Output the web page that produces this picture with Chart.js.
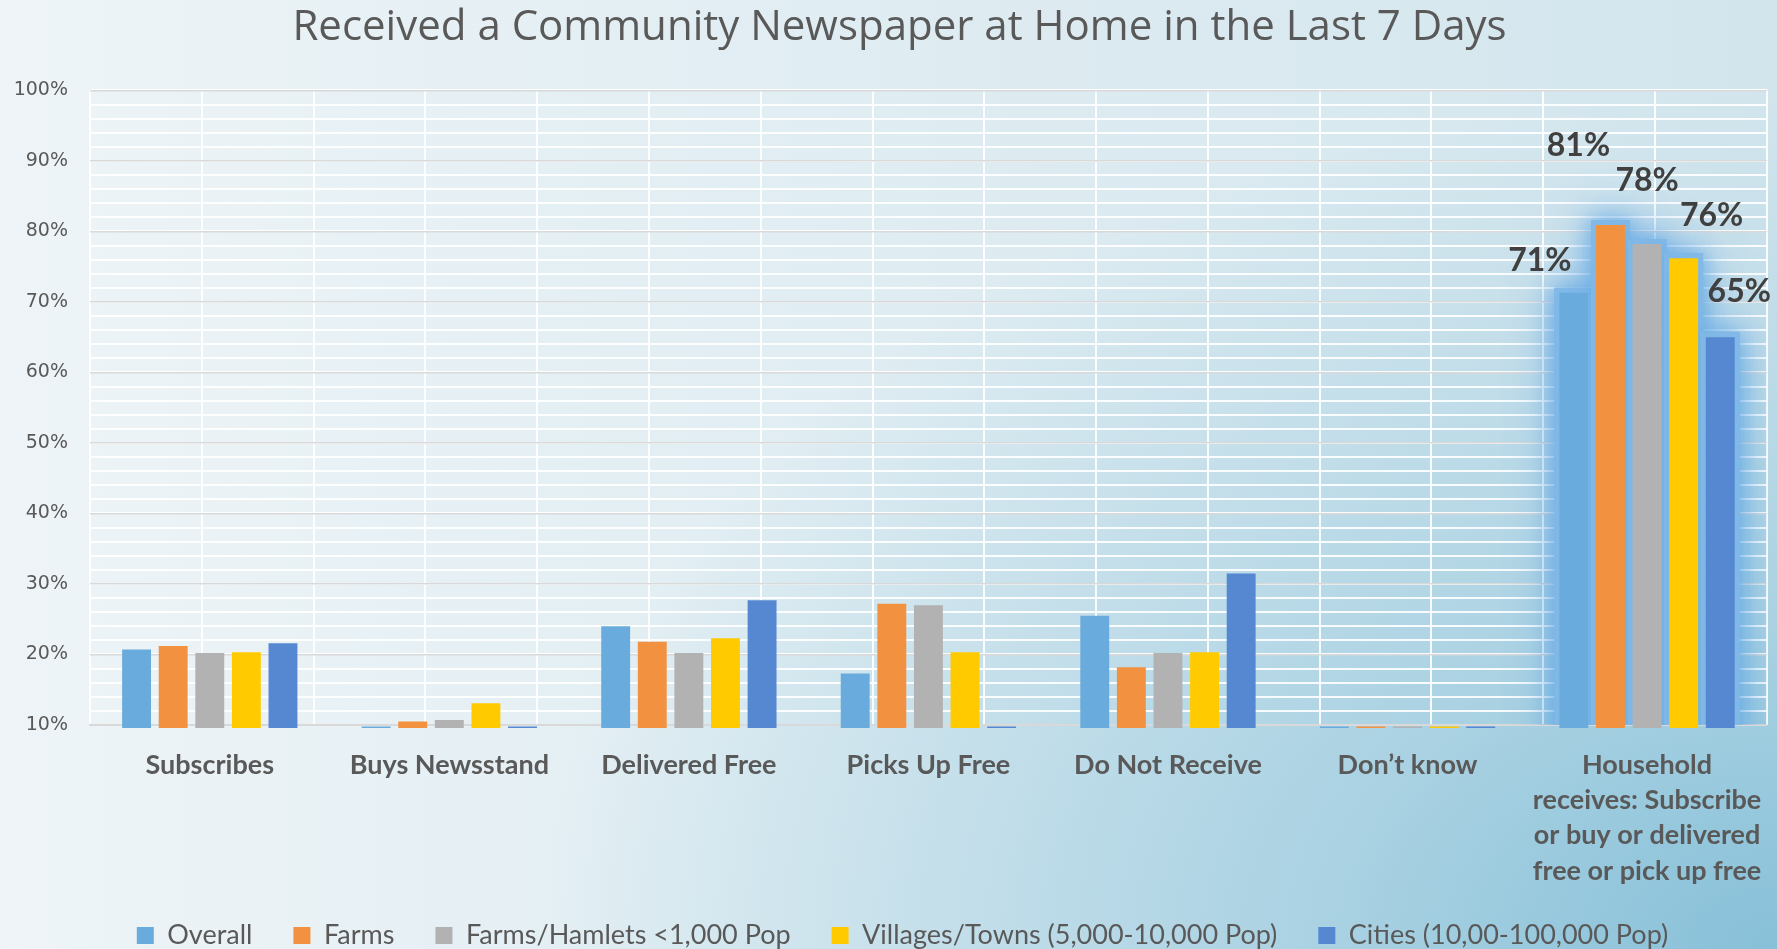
<!DOCTYPE html>
<html>
<head>
<meta charset="utf-8">
<script src="https://cdn.jsdelivr.net/npm/chart.js@4.4.1/dist/chart.umd.min.js"></script>
<style>
html, body { margin: 0; padding: 0; }
body {
  width: 1777px; height: 949px; overflow: hidden;
  background:
    radial-gradient(ellipse 70% 90% at 100% 100%, rgba(135,192,216,1) 0%, rgba(160,205,224,0.85) 35%, rgba(200,226,236,0) 100%),
    linear-gradient(to right, #eef4f7 0%, #e2eef3 40%, #d2e5ed 100%);
}
#wrap { width: 1777px; height: 949px; }
</style>
</head>
<body>
<div id="wrap"><canvas id="graph" width="1777" height="949"></canvas></div>
<script>
var categories = ['Subscribes', 'Buys Newsstand', 'Delivered Free', 'Picks Up Free', 'Do Not Receive', 'Don\u2019t know',
                  ['Household', 'receives: Subscribe', 'or buy or delivered', 'free or pick up free']];
var seriesNames = ['Overall', 'Farms', 'Farms/Hamlets <1,000 Pop', 'Villages/Towns (5,000-10,000 Pop)', 'Cities (10,00-100,000 Pop)'];

// values in %, bars under 10 only show as a thin line under the axis
var overall  = [20.7,  9.8, 24.0, 17.3, 25.5, 9.8, 71.3];
var farms    = [21.2, 10.5, 21.8, 27.2, 18.2, 9.8, 80.9];
var hamlets  = [20.2, 10.7, 20.2, 27.0, 20.2, 9.8, 78.2];
var villages = [20.3, 13.1, 22.3, 20.3, 20.3, 9.8, 76.2];
var cities   = [21.6,  9.8, 27.7,  9.8, 31.5, 9.8, 65.0];

var seriesColors = ['#6aabdd', '#f29241', '#b2b2b2', '#ffcb00', '#5588d1'];

// the highlighted group and where its labels sit (offset from bar top)
var glowIndex = 6;
var labelOffsets = [[-34, -32], [-32, -79], [0, -63], [28, -43], [19, -46]];

var glowPlugin = {
  id: 'glow',
  beforeDatasetsDraw: function(chart) {
    var ctx = chart.ctx, area = chart.chartArea;
    ctx.save();
    ctx.beginPath();
    ctx.rect(area.left, area.top - 40, area.right - area.left, area.bottom - area.top + 40);
    ctx.clip();
    for (var pass = 0; pass < 2; pass++) {
      chart.data.datasets.forEach(function(ds, i) {
        var bar = chart.getDatasetMeta(i).data[glowIndex];
        ctx.shadowColor = 'rgba(95,165,228,0.9)';
        ctx.shadowBlur = pass ? 20 : 45;
        ctx.fillStyle = 'rgba(130,186,232,0.85)';
        ctx.fillRect(bar.x - bar.width / 2 - 5, bar.y - 5, bar.width + 10, bar.base - bar.y + 5);
      });
    }
    ctx.restore();
  }
};

var labelPlugin = {
  id: 'hhLabels',
  afterDatasetsDraw: function(chart) {
    var ctx = chart.ctx;
    ctx.save();
    ctx.font = 'bold 32px Lato';
    ctx.fillStyle = '#404040';
    ctx.textAlign = 'center';
    ctx.textBaseline = 'middle';
    chart.data.datasets.forEach(function(ds, i) {
      var bar = chart.getDatasetMeta(i).data[glowIndex];
      var off = labelOffsets[i];
      ctx.fillText(Math.round(ds.data[glowIndex]) + '%', bar.x + off[0], bar.y + off[1]);
    });
    ctx.restore();
  }
};

// legend box is kept short so the x labels get room, then its top is lifted
// title and legend are nudged right a little
var layoutTweaks = {
  id: 'layoutTweaks',
  beforeLayout: function(chart) {
    var lg = chart.legend;
    if (lg && !lg._patched) {
      var fit = lg.fit;
      lg.fit = function() { fit.call(this); this.height = 62; };
      lg._patched = true;
    }
  },
  afterLayout: function(chart) {
    chart.legend.top -= 6;
    chart.legend.left += 26;
    chart.titleBlock.left += 20;
  }
};

var drawGraph = function() {
  var ctx = document.getElementById('graph').getContext('2d');
  var values = [overall, farms, hamlets, villages, cities];
  var datasets = values.map(function(v, i) {
    return {
      label: seriesNames[i],
      data: v,
      backgroundColor: seriesColors[i],
      borderWidth: 0,
      xAxisID: 'x',
      yAxisID: 'y',
      categoryPercentage: 0.764,
      barPercentage: 0.79,
      clip: {left: 0, top: 60, right: 10, bottom: 3}
    };
  });

  new Chart(ctx, {
    type: 'bar',
    data: { labels: categories, datasets: datasets },
    plugins: [glowPlugin, labelPlugin, layoutTweaks],
    options: {
      responsive: false,
      animation: false,
      layout: { padding: { left: 12, right: 10, top: 0, bottom: 0 } },
      plugins: {
        title: {
          display: true,
          text: 'Received a Community Newspaper at Home in the Last 7 Days',
          color: '#595959',
          font: { family: 'Open Sans', size: 42, weight: 'normal', lineHeight: 1.2 },
          padding: { top: 3, bottom: 37 }
        },
        legend: {
          position: 'bottom',
          labels: {
            color: '#595959',
            font: { family: 'Lato', size: 27 },
            boxWidth: 17,
            boxHeight: 17,
            padding: 41
          }
        },
        tooltip: { enabled: false }
      },
      scales: {
        x: {
          type: 'category',
          grid: { display: false },
          border: { display: true, color: '#d9d9d9', width: 2 },
          ticks: {
            color: '#595959',
            font: { family: 'Lato', weight: 'bold', size: 27, lineHeight: 1.3 },
            padding: 15,
            maxRotation: 0,
            minRotation: 0,
            autoSkip: false
          },
          afterFit: function(s) { s.height = 162; }
        },
        xg: {
          type: 'linear',
          position: 'top',
          min: 0,
          max: 7,
          ticks: { display: false, stepSize: 0.5 },
          grid: { color: 'rgba(255,255,255,0.9)', lineWidth: 2, drawTicks: false, z: -2 },
          border: { display: false },
          afterFit: function(s) { s.height = 0; }
        },
        y: {
          min: 10,
          max: 100,
          ticks: {
            stepSize: 10,
            color: '#595959',
            font: { family: 'DejaVu Sans', size: 19 },
            padding: 22,
            callback: function(v) { return v + '%'; }
          },
          grid: { color: '#d9d9d9', lineWidth: 1.5, drawTicks: false, z: -1 },
          border: { display: false },
          afterFit: function(s) { s.width = 78; }
        },
        y2: {
          position: 'right',
          min: 10,
          max: 100,
          ticks: { display: false, stepSize: 2 },
          grid: { color: 'rgba(255,255,255,0.9)', lineWidth: 2, drawTicks: false, z: -3 },
          border: { display: false },
          afterFit: function(s) { s.width = 0; }
        }
      }
    }
  });
};

window.onload = function() {
  drawGraph();
};
</script>
</body>
</html>
